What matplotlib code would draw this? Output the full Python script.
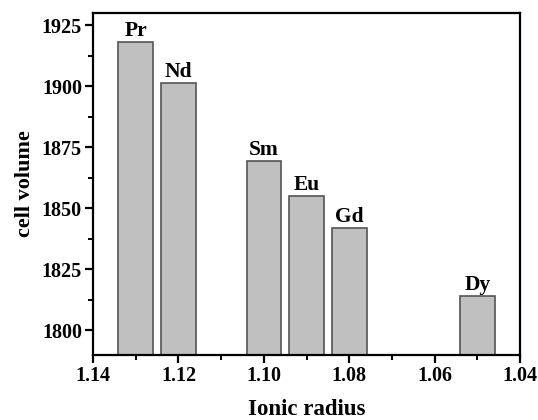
import matplotlib.pyplot as plt
from matplotlib.ticker import MultipleLocator

elements = ["Pr", "Nd", "Sm", "Eu", "Gd", "Dy"]
ionic_radius = [1.130, 1.120, 1.100, 1.090, 1.080, 1.050]
cell_volume = [1918, 1901.5, 1869.3, 1855, 1842, 1814]

plt.rcParams["font.family"] = ["Liberation Serif", "DejaVu Serif"]
plt.rcParams["font.weight"] = "bold"

fig = plt.figure(figsize=(5.38, 4.2), dpi=100)
ax = fig.add_axes([0.173, 0.155, 0.7935, 0.814])

ax.bar(ionic_radius, cell_volume, width=0.0081, bottom=0,
       color="#c0c0c0", edgecolor="#555555", linewidth=1.2)
for x, y, name in zip(ionic_radius, cell_volume, elements):
    ax.text(x, y + 0.4, name, ha="center", va="bottom", fontsize=15.5,
            fontweight="bold")

ax.set_xlim(1.14, 1.04)
ax.set_ylim(1790, 1930)
ax.xaxis.set_minor_locator(MultipleLocator(0.01))
ax.yaxis.set_minor_locator(MultipleLocator(12.5))
ax.set_xticks([1.14, 1.12, 1.10, 1.08, 1.06, 1.04])
ax.set_xticklabels(["1.14", "1.12", "1.10", "1.08", "1.06", "1.04"])
ax.set_yticks([1800, 1825, 1850, 1875, 1900, 1925])

ax.tick_params(which="major", direction="out", length=6, width=1.6,
               labelsize=14.5, pad=2, top=False, right=False)
ax.tick_params(which="minor", direction="out", length=3.5, width=1.4,
               top=False, right=False)
for s in ax.spines.values():
    s.set_linewidth(1.6)

ax.set_xlabel("Ionic radius", fontsize=16.5, fontweight="bold", labelpad=9)
ax.set_ylabel("cell volume", fontsize=16, fontweight="bold", labelpad=5)

fig.savefig("out.png", dpi=100)
